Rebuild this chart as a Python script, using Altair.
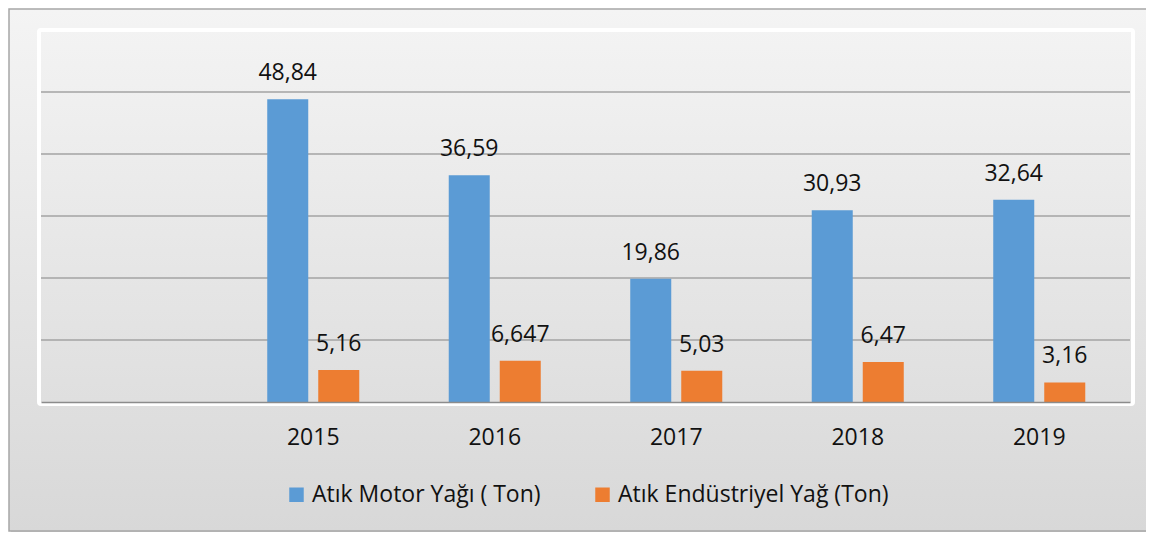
import altair as alt
import pandas as pd

# ---- data ----
years = ["2015", "2016", "2017", "2018", "2019"]
motor_oil = [48.84, 36.59, 19.86, 30.93, 32.64]
industrial_oil = [5.16, 6.647, 5.03, 6.47, 3.16]
series = ["Atık Motor Yağı ( Ton)", "Atık Endüstriyel Yağ (Ton)"]
colors = ["#5B9BD5", "#ED7D31"]
grid_values = [10, 20, 30, 40, 50]
x_domain = [" "] + years  # leading empty category as in the original

rows = []
for i, y in enumerate(years):
    rows.append({"year": y, "series": series[0], "value": motor_oil[i]})
    rows.append({"year": y, "series": series[1], "value": industrial_oil[i]})
df = pd.DataFrame(rows)
grid_df = pd.DataFrame({"value": grid_values})
bg = pd.DataFrame({"k": [0]})

FONT = "Open Sans"
FS = 23
W, H = 1089, 372

gradient = {
    "gradient": "linear", "x1": 0, "y1": 0, "x2": 0, "y2": 1,
    "stops": [{"offset": 0, "color": "#f4f4f4"}, {"offset": 1, "color": "#d8d8d8"}],
}

shadow = alt.Chart(bg).mark_rect(fill="#c4c4c4", opacity=0.7).encode(
    x=alt.value(-30), x2=alt.value(1120), y=alt.value(-19), y2=alt.value(504)
)
frame = alt.Chart(bg).mark_rect(fill=gradient, stroke="#a6a6a6", strokeWidth=1.5).encode(
    x=alt.value(-32), x2=alt.value(1120), y=alt.value(-21), y2=alt.value(501)
)

yscale = alt.Scale(domain=[0, 60], nice=False, zero=True)

grid = alt.Chart(grid_df).mark_rule(color="#a3a3a3", strokeWidth=1.3).encode(
    y=alt.Y("value:Q", scale=yscale, axis=None)
)

inner = alt.Chart(bg).mark_rect(
    fillOpacity=0, stroke="white", strokeWidth=4, cornerRadius=2
).encode(x=alt.value(-2), x2=alt.value(1092), y=alt.value(0), y2=alt.value(374))

xenc = alt.X(
    "year:N",
    scale=alt.Scale(domain=x_domain, paddingInner=0.493, paddingOuter=0.2465),
    axis=alt.Axis(
        title=None, labelAngle=0, ticks=False, tickSize=0, grid=False,
        domainColor="#8c8c8c", domainWidth=1.5, labelFont=FONT, labelFontSize=FS,
        labelColor="#111111", labelPadding=24, labelBaseline="top", zindex=1,
    ),
)
xoff = alt.XOffset(
    "series:N", scale=alt.Scale(domain=series, paddingInner=0.196, paddingOuter=0)
)

bars = alt.Chart(df).mark_bar().encode(
    x=xenc,
    xOffset=xoff,
    y=alt.Y("value:Q", scale=yscale, axis=None),
    color=alt.Color(
        "series:N",
        scale=alt.Scale(domain=series, range=colors),
        legend=alt.Legend(
            title=None, orient="none", legendX=244, legendY=453,
            direction="horizontal", symbolType="square", symbolSize=210,
            symbolStrokeWidth=0, symbolOpacity=1, labelFont=FONT,
            labelFontSize=FS, labelColor="#111111", labelLimit=500,
            columnPadding=50, labelOffset=4, padding=0,
        ),
    ),
)

labels = alt.Chart(df).transform_calculate(
    label="replace(toString(datum.value), '.', ',')"
).mark_text(font=FONT, fontSize=FS, color="#111111", dy=-26).encode(
    x=xenc,
    xOffset=xoff,
    y=alt.Y("value:Q", scale=yscale, axis=None),
    text="label:N",
)

chart = alt.layer(shadow, frame, grid, inner, bars, labels).properties(
    width=W, height=H,
    autosize=alt.AutoSizeParams(type="none"),
    padding={"left": 33, "top": 22, "right": 16, "bottom": 130},
    background="white",
).configure_view(stroke=None)

chart.save("out.html", embed_options={"renderer": "svg", "actions": False})
